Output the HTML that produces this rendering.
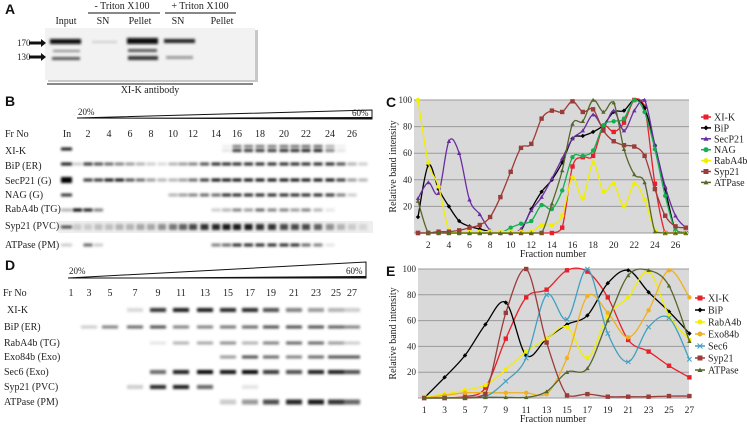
<!DOCTYPE html>
<html><head><meta charset="utf-8"><style>
html,body{margin:0;padding:0;background:#fff;}
svg{display:block;}
.t{font-family:"Liberation Serif",serif;fill:#222;}
.p{font-family:"Liberation Sans",sans-serif;font-weight:bold;fill:#111;font-size:14px;}
</style></head><body>
<svg id="fig" width="747" height="424" viewBox="0 0 747 424" xmlns="http://www.w3.org/2000/svg">
<defs>
<filter id="blur" x="-50%" y="-100%" width="200%" height="300%"><feGaussianBlur stdDeviation="1.2"/></filter>
</defs>
<g>
<text class="p" x="5" y="14">A</text>
<text class="t" x="122" y="9" font-size="10" text-anchor="middle">- Triton X100</text>
<line x1="88" y1="13" x2="160" y2="13" stroke="#111" stroke-width="1"/>
<text class="t" x="200" y="9" font-size="10" text-anchor="middle">+ Triton X100</text>
<line x1="165" y1="13" x2="236" y2="13" stroke="#111" stroke-width="1"/>
<text class="t" x="66" y="24" font-size="10" text-anchor="middle">Input</text>
<text class="t" x="103" y="24" font-size="10" text-anchor="middle">SN</text>
<text class="t" x="140" y="24" font-size="10" text-anchor="middle">Pellet</text>
<text class="t" x="178" y="24" font-size="10" text-anchor="middle">SN</text>
<text class="t" x="222" y="24" font-size="10" text-anchor="middle">Pellet</text>
<rect x="48" y="30" width="210" height="52" fill="#c8c8c8"/>
<rect x="45" y="28" width="210" height="52" fill="#f2f2f2"/>
<g filter="url(#blur)">
<rect x="50" y="39" width="31" height="5" fill="#111"/>
<rect x="53" y="50" width="27" height="2" fill="#888"/>
<rect x="52" y="57" width="28" height="3" fill="#555"/>
<rect x="92" y="41" width="25" height="2" fill="#ccc"/>
<rect x="127" y="38" width="31" height="6" fill="#0a0a0a"/>
<rect x="128" y="49" width="29" height="3" fill="#555"/>
<rect x="128" y="56" width="30" height="4" fill="#333"/>
<rect x="164" y="39" width="31" height="4" fill="#222"/>
<rect x="166" y="56" width="27" height="3" fill="#999"/>
</g>
<text class="t" x="17" y="46" font-size="9">170</text>
<text class="t" x="17" y="60" font-size="9">130</text>
<path d="M29 41.5 H41 V39 L46 43 L41 47 V44.5 H29Z" fill="#111"/>
<path d="M29 55.5 H41 V53 L46 57 L41 61 V58.5 H29Z" fill="#111"/>
<line x1="47" y1="84" x2="253" y2="84" stroke="#111" stroke-width="1"/>
<text class="t" x="150" y="93" font-size="10" text-anchor="middle">XI-K antibody</text>
</g>

<g id="blotB">
<text class="p" x="5" y="106">B</text>
<text class="t" x="78" y="115" font-size="9">20%</text>
<path d="M77 118 L372 110 L372 119 Z" fill="none" stroke="#111" stroke-width="1"/>
<path d="M77 118 L372 117 L372 119 Z" fill="#111"/>
<text class="t" x="352" y="116" font-size="9">60%</text>
<text class="t" x="5" y="137" font-size="10">Fr No</text>
<rect x="58" y="221" width="315" height="12" fill="#eee"/>
</g>
<g id="blotD">
<text class="p" x="5" y="270">D</text>
<text class="t" x="69" y="274" font-size="9">20%</text>
<path d="M68 278 L366 262 L366 278 Z" fill="none" stroke="#111" stroke-width="1"/>
<path d="M68 278 L366 276 L366 278 Z" fill="#111"/>
<text class="t" x="346" y="274" font-size="9">60%</text>
<text class="t" x="3" y="296" font-size="10">Fr No</text>
</g>

<g id="chartC"></g>
<g id="chartE"></g>
</svg>
<script>
const NS="http://www.w3.org/2000/svg";
function mk(tag,attrs,parent){const e=document.createElementNS(NS,tag);for(const k in attrs)e.setAttribute(k,attrs[k]);parent.appendChild(e);return e;}

// ---------- Blot B data ----------
const bLaneLabels=["In","2","4","6","8","10","12","14","16","18","20","22","24","26"];
const bRows=["XI-K","BiP (ER)","SecP21 (G)","NAG (G)","RabA4b (TG)","Syp21 (PVC)","ATPase (PM)"];
const bIn=[0.9,0.9,1,0.8,0.3,0.7,0.2];
const bXIK=[0,0,0,0,0,0,0,0,0,0,0,0,0,0,0.1,0.8,0.8,0.8,0.8,0.85,0.85,0.9,0.9,0.5,0.1,0,0];
const bBiP=[0.2,0.8,0.7,0.6,0.5,0.4,0.3,0.2,0.15,0.3,0.4,0.5,0.7,0.85,0.85,0.85,0.85,0.85,0.85,0.85,0.85,0.85,0.85,0.85,0.7,0.3,0.2];
const bSec=[0,0.8,0.8,0.95,0.95,0.7,0.6,0.4,0.3,0.3,0.4,0.6,0.8,0.95,0.95,0.95,0.95,0.95,0.95,0.95,0.95,0.95,0.95,0.95,0.8,0.4,0.3];
const bNAG=[0,0,0,0,0,0,0,0,0,0.3,0.4,0.5,0.6,0.6,0.85,0.85,0.85,0.85,0.85,0.85,0.85,0.85,0.85,0.8,0.5,0.2,0];
const bRab=[1,0.9,0.5,0,0,0,0,0,0,0,0,0,0,0.2,0.3,0.5,0.4,0.6,0.5,0.5,0.4,0.5,0.3,0.1,0,0,0];
const bSyp=[0.15,0.15,0.2,0.2,0.25,0.25,0.3,0.3,0.4,0.5,0.6,0.7,0.8,0.85,0.9,0.9,0.9,0.8,0.8,0.7,0.7,0.7,0.6,0.4,0.25,0.15,0.1];
const bATP=[0,0.6,0.2,0,0,0,0,0,0,0,0,0,0,0.5,0.6,0.85,0.85,0.85,0.85,0.85,0.85,0.6,0.5,0.1,0,0,0];
const bRowY=[149,164,180,195,210,227,245];
const bLabY=[154,169,184,198,212,229,248];

// ---------- Blot D data ----------
const dLanes=["1","3","5","7","9","11","13","15","17","19","21","23","25","27"];
const dRows=["XI-K","BiP (ER)","RabA4b (TG)","Exo84b (Exo)","Sec6 (Exo)","Syp21 (PVC)","ATPase (PM)"];
const dXIK=[0,0,0,0.15,0.8,0.9,0.9,0.85,0.85,0.7,0.5,0.4,0.3,0.2];
const dBiP=[0,0.2,0.5,0.6,0.7,0.5,0.5,0.55,0.6,0.7,0.7,0.7,0.65,0.5];
const dRab=[0,0,0,0,0.1,0.3,0.35,0.45,0.3,0.5,0.6,0.6,0.4,0.2];
const dExo=[0,0,0,0,0,0,0,0.4,0.7,0.6,0.5,0.6,0.7,0.7];
const dSec=[0,0,0,0,0.6,0.9,1,0.95,1,0.8,0.7,0.9,0.9,0.7];
const dSyp=[0,0,0,0.2,0.85,0.9,0.6,0,0.1,0,0,0,0,0];
const dATP=[0,0,0,0,0,0,0,0.2,0.4,0.7,0.85,0.9,0.8,0.6];
const dRowY=[310,327,343,357,372,387,402];
const dLabY=[313,330,346,360,375,390,405];

// ---------- Chart C data ----------
const cFractions=[1,2,3,4,5,6,7,8,9,10,11,12,13,14,15,16,17,18,19,20,21,22,23,24,25,26,27];
const cYTicks=[20,40,60,80,100];
const cXTicks=[2,4,6,8,10,12,14,16,18,20,22,24,26];
const cXIK=[0,0,0,0,0,0,0,0,0,0,0,0,0,0,4,50,57,58,80,76,83,100,95,37,0,0,0];
const cBiP=[12,51,33,20,9,5,3,1,0,0,2,18,31,40,53,71,73,76,81,91,92,100,94,66,33,2,0];
const cSecP21=[26,38,30,69,60,25,14,2,0,0,3,17,27,41,56,71,77,89,80,92,77,92,100,66,35,13,4];
const cNAG=[0,0,0,0,0,0,0,0,0,4,7,9,21,18,32,57,58,62,81,84,86,100,91,63,28,2,0];
const cRabA4b=[100,53,35,2,1,1,1,1,1,1,1,1,6,6,13,42,26,53,31,37,20,37,25,2,0,0,0];
const cSyp21=[0,0,1,1,2,4,6,12,27,46,64,67,86,92,91,99,91,93,77,69,66,65,58,33,13,5,4];
const cATPase=[24,0,0,0,0,0,0,0,0,0,0,0,0,22,47,82,84,100,91,98,63,44,38,1,0,0,0];

// ---------- Chart E data ----------
const eFractions=[1,3,5,7,9,11,13,15,17,19,21,23,25,27];
const eYTicks=[20,40,60,80,100];
const eXIK=[0,0,1,8,46,78,84,99,98,78,45,36,25,16];
const eBiP=[0,16,33,57,74,33,46,57,64,89,99,82,67,50];
const eRabA4b=[1,3,6,10,22,36,46,55,31,64,78,98,64,45];
const eExo84b=[0,2,4,4,4,4,3,31,79,66,47,68,99,78];
const eSec6=[0,0,0.5,1,13,31,80,61,100,50,28,55,62,30];
const eSyp21=[0,0,0,3,66,100,43,2,3,1,1,1,1.5,1.5];
const eATPase=[0,0,0,0.5,0.5,0.5,5,20,23,60,95,99,87,44];

function interpX(labels,first,step,f){
  const i=(f-first)/step, lo=Math.floor(i), hi=Math.ceil(i);
  if(lo===hi) return labels[lo];
  return labels[lo]+(labels[hi]-labels[lo])*(i-lo);
}
(function(){
  const g=document.getElementById('blotB');
  const bx=[88,109,130,151,173,193,216,237,260,284,306,330,352];
  mk('text',{class:'t',x:67,y:137,'font-size':10,'text-anchor':'middle'},g).textContent="In";
  bLaneLabels.slice(1).forEach((l,i)=>{
    const t=mk('text',{class:'t',x:bx[i],y:137,'font-size':10,'text-anchor':'middle'},g);
    
    
    t.textContent=l;
  });
  function fx(f){ if(f<2) return 88-(2-f)*10.5; if(f>26) return 352+(f-26)*11; return interpX(bx,2,2,f);}
  const rows=[bXIK,bBiP,bSec,bNAG,bRab,bSyp,bATP];
  const bands=mk('g',{filter:'url(#blur)'},g);
  rows.forEach((arr,r)=>{
    const lab=mk('text',{class:'t',x:5,y:bLabY[r],'font-size':10},g);
    
    
    lab.textContent=bRows[r];
    const y=bRowY[r];
    const v0=bIn[r];
    mk('rect',{x:61,y:y-(r===2?3:1.5),width:11,height:r===2?6:3,fill:'#000','fill-opacity':v0},bands);
    arr.forEach((v,i)=>{
      if(v<=0.02) return;
      const x=fx(i+1);
      if(r===0){
        mk('rect',{x:x-4.5,y:y-4,width:9,height:2.5,fill:'#000','fill-opacity':v*0.7},bands);
        mk('rect',{x:x-4.5,y:y,width:9,height:3,fill:'#000','fill-opacity':v},bands);
      } else if(r===5){
        mk('rect',{x:x-4,y:y-3,width:8,height:6,fill:'#000','fill-opacity':v},bands);
      } else {
        mk('rect',{x:x-4.5,y:y-1.5,width:9,height:3,fill:'#000','fill-opacity':v},bands);
      }
    });
  });
})();
(function(){
  const g=document.getElementById('blotD');
  const dx=[71,89,110,135,158,181,205,228,250,271,294,316,336,352];
  dLanes.forEach((l,i)=>{
    const t=mk('text',{class:'t',x:dx[i],y:296,'font-size':10,'text-anchor':'middle'},g);
    
    
    t.textContent=l;
  });
  const rows=[dXIK,dBiP,dRab,dExo,dSec,dSyp,dATP];
  const bands=mk('g',{filter:'url(#blur)'},g);
  rows.forEach((arr,r)=>{
    const lab=mk('text',{class:'t',x:r===0?7:4,y:dLabY[r],'font-size':10},g);
    
    
    lab.textContent=dRows[r];
    const y=dRowY[r];
    arr.forEach((v,i)=>{
      if(v<=0.02) return;
      const x=dx[i];
      const h=(r===6)?5:(r===4||r===5||r===0?4:3);
      mk('rect',{x:x-8,y:y-h/2,width:16,height:h,fill:'#000','fill-opacity':v},bands);
    });
  });
})();

function smooth(pts,lo,hi){
  const cl=v=>Math.max(lo,Math.min(hi,v));
  let d="M"+pts[0][0]+" "+pts[0][1];
  for(let i=0;i<pts.length-1;i++){
    const p0=pts[i-1]||pts[i],p1=pts[i],p2=pts[i+1],p3=pts[i+2]||p2;
    const c1x=p1[0]+(p2[0]-p0[0])/6,c1y=cl(p1[1]+(p2[1]-p0[1])/6);
    const c2x=p2[0]-(p3[0]-p1[0])/6,c2y=cl(p2[1]-(p3[1]-p1[1])/6);
    d+=" C"+c1x.toFixed(1)+" "+c1y.toFixed(1)+" "+c2x.toFixed(1)+" "+c2y.toFixed(1)+" "+p2[0].toFixed(1)+" "+p2[1].toFixed(1);
  }
  return d;
}
function marker(g,shape,x,y,color,s){
  let e;
  if(shape==='sq') e=mk('rect',{x:x-s,y:y-s,width:2*s,height:2*s,fill:color},g);
  else if(shape==='ci') e=mk('circle',{cx:x,cy:y,r:s,fill:color},g);
  else if(shape==='di') e=mk('path',{d:`M${x} ${y-s}L${x+s} ${y}L${x} ${y+s}L${x-s} ${y}Z`,fill:color},g);
  else if(shape==='tr') e=mk('path',{d:`M${x} ${y-s}L${x+s} ${y+s*0.8}L${x-s} ${y+s*0.8}Z`,fill:color},g);
  else e=mk('path',{d:`M${x-s} ${y-s}L${x+s} ${y+s}M${x+s} ${y-s}L${x-s} ${y+s}`,stroke:color,'stroke-width':1},g);
  return e;
}
function drawChart(id,o){
  const g=document.getElementById(id);
  mk('rect',{x:o.x0,y:o.top,width:o.x1-o.x0,height:o.bot-o.top,fill:'#d9d9d9'},g);
  const yS=v=>o.bot-v*(o.bot-o.top)/100;
  o.yTicks.forEach(v=>{
    mk('line',{x1:o.x0,x2:o.x1,y1:yS(v),y2:yS(v),stroke:'#9a9a9a','stroke-width':1},g);
    const t=mk('text',{class:'t',x:o.x0-2,y:yS(v)+3,'font-size':9,'text-anchor':'end'},g);
    
    
    t.textContent=v;
  });
  mk('line',{x1:o.x0,x2:o.x1,y1:o.bot,y2:o.bot,stroke:'#9a9a9a','stroke-width':1},g);
  o.xTicks.forEach(f=>{
    const t=mk('text',{class:'t',x:o.xS(f),y:o.bot+15,'font-size':9.5,'text-anchor':'middle'},g);
    
    
    t.textContent=f;
  });
  const xt=mk('text',{class:'t',x:553,y:o.bot+24,'font-size':10,'text-anchor':'middle'},g);
  
  
  xt.textContent="Fraction number";
  const yt=mk('text',{class:'t',x:0,y:0,'font-size':10,'text-anchor':'middle',transform:`translate(396 ${(o.top+o.bot)/2}) rotate(-90)`},g);
  
  
  yt.textContent="Relative band intensity";
  const pl=mk('text',{class:'p',x:386,y:o.top+7},g);
  
  
  pl.textContent=o.label;
  o.series.forEach((s,k)=>{
    const pts=s.vals.map((v,i)=>[o.xS(o.fr[i]),yS(v)]);
    const p=mk('path',{d:smooth(pts,o.top-2,o.bot),fill:'none',stroke:s.color,'stroke-width':1.3},g);
    
    
    pts.forEach(q=>{
      const m=marker(g,s.shape,q[0],q[1],s.color,2.2);
      
      
    });
    const ly=o.legY+k*o.legStep;
    const lg=mk('g',{},g);
    
    
    mk('line',{x1:o.legX-5,x2:o.legX+5,y1:ly,y2:ly,stroke:s.color,'stroke-width':1.5},lg);
    marker(lg,s.shape,o.legX,ly,s.color,2.5);
    const lt=mk('text',{class:'t',x:o.legX+8,y:ly+3.5,'font-size':10},lg);
    lt.textContent=s.name;
  });
}
drawChart('chartC',{label:'C',x0:414,x1:689,top:100,bot:233,
  xS:f=>418+(f-1)*10.3,fr:cFractions,yTicks:cYTicks,xTicks:cXTicks,legX:706,legY:117,legStep:10.9,
  series:[
   {name:'XI-K',vals:cXIK,color:'#e8202a',shape:'sq'},
   {name:'BiP',vals:cBiP,color:'#000',shape:'di'},
   {name:'SecP21',vals:cSecP21,color:'#6a2ca0',shape:'tr'},
   {name:'NAG',vals:cNAG,color:'#12b050',shape:'ci'},
   {name:'RabA4b',vals:cRabA4b,color:'#f2ee00',shape:'ci'},
   {name:'Syp21',vals:cSyp21,color:'#9a3c3a',shape:'sq'},
   {name:'ATPase',vals:cATPase,color:'#56662a',shape:'tr'}]});
drawChart('chartE',{label:'E',x0:418,x1:689,top:269,bot:398,
  xS:f=>465+(f-5)*10.2,fr:eFractions,yTicks:eYTicks,xTicks:eFractions,legX:700,legY:298,legStep:12,
  series:[
   {name:'XI-K',vals:eXIK,color:'#e8202a',shape:'sq'},
   {name:'BiP',vals:eBiP,color:'#000',shape:'di'},
   {name:'RabA4b',vals:eRabA4b,color:'#f2ee00',shape:'ci'},
   {name:'Exo84b',vals:eExo84b,color:'#f0b020',shape:'ci'},
   {name:'Sec6',vals:eSec6,color:'#40a0c0',shape:'x'},
   {name:'Syp21',vals:eSyp21,color:'#9a3c3a',shape:'sq'},
   {name:'ATPase',vals:eATPase,color:'#56662a',shape:'tr'}]});
</script>
</body></html>
